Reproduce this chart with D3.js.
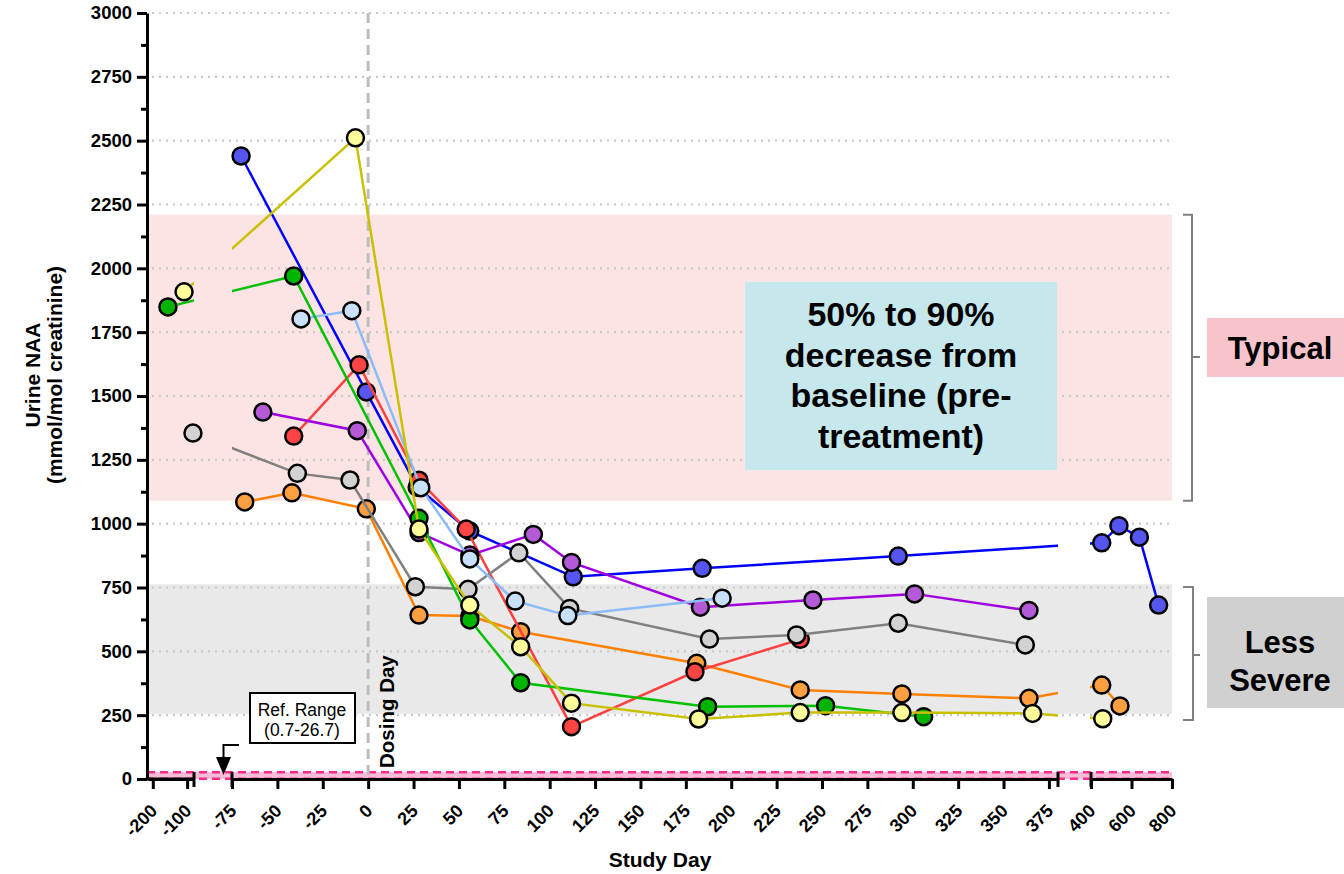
<!DOCTYPE html>
<html>
<head>
<meta charset="utf-8">
<script src="https://cdn.jsdelivr.net/npm/d3@7"></script>
<style>
  body { margin: 0; background: #fff; }
  text { font-family: "Liberation Sans", Arial, sans-serif; }
</style>
</head>
<body>
<div id="chart"></div>
<script>
// tick labels
const seg1Ticks = [-200, -100];
const seg2Ticks = [-75, -50, -25, 0, 25, 50, 75, 100, 125, 150, 175, 200, 225, 250, 275, 300, 325, 350, 375];
const seg3Ticks = [400, 600, 800];
const yTicks = [0, 250, 500, 750, 1000, 1250, 1500, 1750, 2000, 2250, 2500, 2750, 3000];

// one pair of arrays per subject (study day, urine NAA)
const blueDay = [-70, -1, 27, 56, 113, 184, 292, 453, 538, 639, 734];
const blueNaa = [2440, 1516, 1143, 971, 792, 825, 873, 925, 992, 947, 681];
const yellowDay = [-109, -7, 28, 56, 84, 112, 182, 238, 294, 366, 458];
const yellowNaa = [1908, 2511, 979, 681, 518, 297, 235, 260, 260, 257, 236];
const greenDay = [-156, -41, 28, 56, 84, 187, 252, 306];
const greenNaa = [1849, 1970, 1021, 623, 377, 283, 287, 244];
const ltBlueDay = [-37, -9, 29, 56, 81, 110, 195];
const ltBlueNaa = [1802, 1834, 1141, 862, 697, 640, 708];
const redDay = [-41, -5, 28, 54, 112, 180, 238];
const redNaa = [1343, 1622, 1170, 979, 205, 420, 547];
const purpleDay = [-58, -6, 28, 56, 91, 112, 183, 245, 301, 364];
const purpleNaa = [1437, 1364, 965, 877, 958, 848, 673, 701, 725, 660];
const grayDay = [-83, -39, -10, 26, 55, 83, 111, 188, 236, 292, 362];
const grayNaa = [1355, 1197, 1171, 753, 743, 886, 668, 548, 564, 610, 525];
const orangeDay = [-68, -42, -1, 28, 56, 84, 181, 238, 294, 364, 453, 543];
const orangeNaa = [1085, 1121, 1058, 642, 638, 577, 453, 349, 333, 316, 368, 286];

// reference bands
const typicalBand = [1090, 2210];
const lessSevereBand = [255, 763];
const refRange = [0.7, 26.7];

const zip = (a, b) => a.map((d, i) => ({day: d, naa: b[i]}));
const series = [
    {line: "#ff8000", fill: "#ffa040", pts: zip(orangeDay, orangeNaa)},
    {line: "#0000ff", fill: "#5555f0", pts: zip(blueDay, blueNaa)},
    {line: "#ff4040", fill: "#ff4444", pts: zip(redDay, redNaa)},
    {line: "#808080", fill: "#d2d2d2", pts: zip(grayDay, grayNaa)},
    {line: "#a000e0", fill: "#b45ad6", pts: zip(purpleDay, purpleNaa)},
    {line: "#8cbcf8", fill: "#c8e0f8", pts: zip(ltBlueDay, ltBlueNaa)},
    {line: "#00c000", fill: "#00b400", pts: zip(greenDay, greenNaa)},
    {line: "#c8c000", fill: "#ffff9c", pts: zip(yellowDay, yellowNaa)}
];

const W = 1344, H = 874;
const yTop = 13, yBot = 779, axX = 147, plotRight = 1172;
const FONT = "Liberation Sans, Arial, sans-serif";

const svg = d3.select("#chart").append("svg").attr("width", W).attr("height", H);

const y = d3.scaleLinear().domain([0, 3000]).range([yBot, yTop]);

// broken x axis: three linear pieces
const segs = [
    {scale: d3.scaleLinear().domain([-214, -80]).range([148, 194]), ticks: seg1Ticks},
    {scale: d3.scaleLinear().domain([-75, 380]).range([232, 1058]), ticks: seg2Ticks},
    {scale: d3.scaleLinear().domain([400, 800]).range([1091, 1172]), ticks: seg3Ticks}
];
var xPos = (d) => {
    var s = segs.find(s => d >= s.scale.domain()[0] - 1 && d <= s.scale.domain()[1] + 1) || segs[1];
    return s.scale(d);
};

// bands
var bandG = svg.append("g");
bandG.append("rect").attr("x", axX).attr("width", plotRight - axX)
    .attr("y", y(typicalBand[1])).attr("height", y(typicalBand[0]) - y(typicalBand[1]))
    .attr("fill", "#fde4e4");
bandG.append("rect").attr("x", axX).attr("width", plotRight - axX)
    .attr("y", y(lessSevereBand[1])).attr("height", y(lessSevereBand[0]) - y(lessSevereBand[1]))
    .attr("fill", "#e9e9e9");

// dotted grid
svg.append("g").selectAll("line").data(yTicks.filter(d => d > 0)).enter().append("line")
    .attr("x1", axX + 5).attr("x2", plotRight)
    .attr("y1", d => y(d)).attr("y2", d => y(d))
    .attr("stroke", "#c8c8c8").attr("stroke-width", 2.2).attr("stroke-dasharray", "2,5");

// reference range
svg.append("rect").attr("x", axX).attr("width", plotRight - axX)
    .attr("y", y(refRange[1])).attr("height", y(refRange[0]) - y(refRange[1]))
    .attr("fill", "#f9bcd8");
svg.append("g").selectAll("line").data(refRange).enter().append("line")
    .attr("x1", axX).attr("x2", plotRight)
    .attr("y1", d => y(d)).attr("y2", d => y(d))
    .attr("stroke", "#ff2a8c").attr("stroke-width", 2.5).attr("stroke-dasharray", "8,5");

// dosing day line
svg.append("line").attr("x1", xPos(0)).attr("x2", xPos(0)).attr("y1", yTop).attr("y2", yBot)
    .attr("stroke", "#bdbdbd").attr("stroke-width", 3).attr("stroke-dasharray", "10,6");
svg.append("text").attr("transform", `translate(${xPos(0) + 26},768) rotate(-90)`)
    .attr("font-size", 20.5).attr("font-weight", "bold").text("Dosing Day");

// annotation box
svg.append("rect").attr("x", 745).attr("y", 282).attr("width", 312).attr("height", 188).attr("fill", "#c6e8ec");
var boxLines = ["50% to 90%", "decrease from", "baseline (pre-", "treatment)"];
svg.append("g").selectAll("text").data(boxLines).enter().append("text")
    .attr("x", 901).attr("y", (d, i) => 326 + i * 40.5)
    .attr("text-anchor", "middle").attr("font-size", 34).attr("font-weight", "bold").text(d => d);

// clip lines to the axis segments
var clip = svg.append("defs").append("clipPath").attr("id", "segclip");
[[axX, 194], [232, 1058], [1090, plotRight]].forEach(r => {
    clip.append("rect").attr("x", r[0]).attr("y", 0).attr("width", r[1] - r[0]).attr("height", H);
});

var line = d3.line().x(d => xPos(d.day)).y(d => y(d.naa));
series.forEach(s => {
    var g = svg.append("g");
    g.append("path").datum(s.pts).attr("clip-path", "url(#segclip)")
        .attr("d", line).attr("fill", "none").attr("stroke", s.line).attr("stroke-width", 2.5);
    g.selectAll("circle").data(s.pts).enter().append("circle")
        .attr("cx", d => xPos(d.day)).attr("cy", d => y(d.naa)).attr("r", 8.5)
        .attr("fill", s.fill).attr("stroke", "#000").attr("stroke-width", 2.5);
});

// y axis
var yAxis = svg.append("g").attr("transform", `translate(${axX},0)`)
    .call(d3.axisLeft(y).tickValues(yTicks).tickSize(10).tickPadding(5).tickSizeOuter(0).tickFormat(d => String(d)));
yAxis.select(".domain").attr("stroke-width", 3);
yAxis.selectAll(".tick line").attr("stroke-width", 3);
yAxis.selectAll("text").attr("font-size", 18.5).attr("font-weight", "bold").attr("font-family", FONT);
svg.append("g").attr("transform", `translate(${axX},0)`)
    .call(d3.axisLeft(y).tickValues(d3.range(125, 3000, 250)).tickSize(6).tickFormat(""))
    .call(g => g.select(".domain").remove())
    .selectAll(".tick line").attr("stroke-width", 3);

// x axis pieces
segs.forEach(s => {
    var ax = svg.append("g").attr("transform", `translate(0,${yBot})`)
        .call(d3.axisBottom(s.scale).tickValues(s.ticks).tickSize(10).tickSizeOuter(0).tickFormat(d => String(d)));
    ax.select(".domain").attr("stroke-width", 3);
    ax.selectAll(".tick line").attr("stroke-width", 3);
    ax.selectAll("text").attr("y", 0).attr("dy", null)
        .attr("transform", "translate(5,33) rotate(-45)")
        .style("text-anchor", "end")
        .attr("font-size", 18).attr("font-weight", "bold").attr("font-family", FONT);
});
svg.append("line").attr("x1", axX - 1.5).attr("x2", 194).attr("y1", yBot).attr("y2", yBot).attr("stroke", "#000").attr("stroke-width", 3);
svg.append("g").selectAll("line").data([194, 232, 1058, 1091]).enter().append("line")
    .attr("x1", d => d).attr("x2", d => d).attr("y1", yBot - 7).attr("y2", yBot + 8)
    .attr("stroke", "#000").attr("stroke-width", 3);

// axis titles
svg.append("text").attr("x", 660).attr("y", 867).attr("text-anchor", "middle")
    .attr("font-size", 21).attr("font-weight", "bold").text("Study Day");
var yt = svg.append("text").attr("transform", "translate(40,375) rotate(-90)")
    .attr("text-anchor", "middle").attr("font-size", 21).attr("font-weight", "bold");
yt.append("tspan").attr("x", 0).attr("y", 0).text("Urine NAA");
yt.append("tspan").attr("x", 0).attr("y", 22).text("(mmol/mol creatinine)");

// ref range callout
svg.append("rect").attr("x", 250).attr("y", 693).attr("width", 105).attr("height", 50)
    .attr("fill", "#fff").attr("stroke", "#000").attr("stroke-width", 2);
svg.append("text").attr("x", 302).attr("y", 716).attr("text-anchor", "middle").attr("font-size", 17.5).text("Ref. Range");
svg.append("text").attr("x", 302).attr("y", 736).attr("text-anchor", "middle").attr("font-size", 17.5).text("(0.7-26.7)");
svg.append("path").attr("d", "M239,745H223.5V758").attr("fill", "none").attr("stroke", "#000").attr("stroke-width", 2);
svg.append("path").attr("d", "M216,757H231L223.5,775Z").attr("fill", "#000");

// brackets and category labels
var bracket = (top, bot, xb, mid) => `M1183,${top}H${xb}V${bot}H1183M${xb},${mid}H1200`;
svg.append("path").attr("d", bracket(y(typicalBand[1]), y(typicalBand[0]), 1192, 357))
    .attr("fill", "none").attr("stroke", "#808080").attr("stroke-width", 2);
svg.append("path").attr("d", bracket(587, 720, 1193, 655))
    .attr("fill", "none").attr("stroke", "#808080").attr("stroke-width", 2);
svg.append("rect").attr("x", 1207).attr("y", 318).attr("width", 137).attr("height", 59).attr("fill", "#f8c4cc");
svg.append("text").attr("x", 1280).attr("y", 359).attr("text-anchor", "middle")
    .attr("font-size", 31).attr("font-weight", "bold").text("Typical");
svg.append("rect").attr("x", 1207).attr("y", 597).attr("width", 137).attr("height", 111).attr("fill", "#d0d0d0");
svg.append("text").attr("x", 1280).attr("y", 653).attr("text-anchor", "middle")
    .attr("font-size", 31).attr("font-weight", "bold").text("Less");
svg.append("text").attr("x", 1280).attr("y", 691).attr("text-anchor", "middle")
    .attr("font-size", 31).attr("font-weight", "bold").text("Severe");
</script>
</body>
</html>
